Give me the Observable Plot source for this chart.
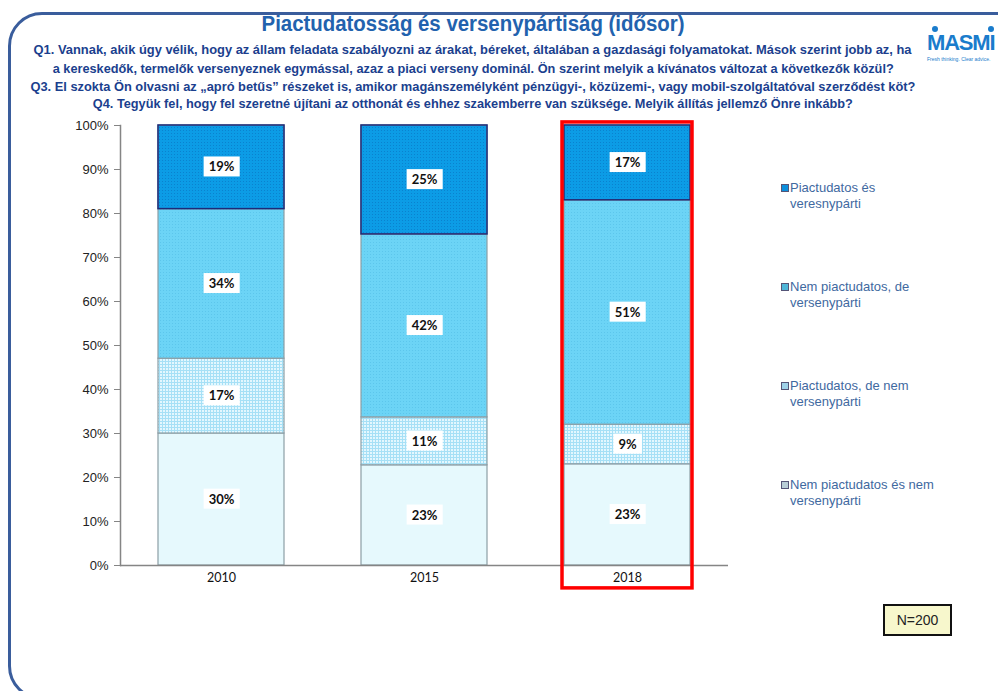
<!DOCTYPE html>
<html>
<head>
<meta charset="utf-8">
<script src="https://cdn.jsdelivr.net/npm/d3@7"></script>
<script src="https://cdn.jsdelivr.net/npm/@observablehq/plot@0.6"></script>
<style>
  html, body { margin: 0; padding: 0; background: #fff; }
  #page { position: relative; width: 998px; height: 691px; overflow: hidden; background: #fff; }
  #frame { position: absolute; left: 8px; top: 12px; width: 1030px; height: 688px; border: 3px solid #3a5d9c; border-radius: 34px; box-sizing: border-box; }
  .hl { position: absolute; left: 0; width: 946px; text-align: center; white-space: nowrap; font-family: "Liberation Sans", Arial, sans-serif; font-weight: bold; }
  .hl span { display: inline-block; transform-origin: 50% 50%; }
  #title { top: 11px; font-size: 22px; color: #2262ae; }
  .q { font-size: 13px; line-height: 16px; color: #1b3f8e; }
  #chart { position: absolute; left: 0; top: 115px; }
  #legend { position: absolute; left: 781px; top: 0; font-family: "Liberation Sans", Arial, sans-serif; font-size: 13px; color: #41699f; }
  .li { position: absolute; left: 0; width: 180px; line-height: 16px; white-space: nowrap; }
  .sw { display: inline-block; width: 8px; height: 8px; margin-right: 1px; vertical-align: 0px; box-sizing: border-box; }
  #nbox { position: absolute; left: 883px; top: 604px; width: 69px; height: 32px; box-sizing: border-box; border: 2px solid #111; background: #f7f7cc; font-family: "Liberation Sans", Arial, sans-serif; font-size: 14px; line-height: 28px; text-align: center; color: #222; }
  #logo { position: absolute; left: 927px; top: 24px; width: 72px; font-family: "Liberation Sans", Arial, sans-serif; color: #1a7ccc; }
  #logo .m { font-weight: bold; font-size: 22px; letter-spacing: -1.2px; line-height: 22px; position: relative; top: 8px; }
  #logo .t { font-size: 5px; line-height: 6px; margin-top: 10px; white-space: nowrap; }
  .dot { position: absolute; width: 6px; height: 6px; border-radius: 3px; background: #1a7ccc; }
</style>
</head>
<body>
<div id="page">
  <div id="frame"></div>
  <div id="title" class="hl"></div>
  <div id="questions"></div>
  <div id="logo"><div class="dot" style="left:5px;top:2px"></div><div class="dot" style="left:61px;top:2px"></div><div class="m">MASMI</div><div class="t">Fresh thinking. Clear advice.</div></div>
  <svg width="0" height="0" style="position:absolute">
    <defs>
      <pattern id="patA" width="3" height="3" patternUnits="userSpaceOnUse">
        <rect width="3" height="3" fill="#0c9ce6"></rect>
        <rect x="0" y="0" width="1" height="1" fill="#0a82cf"></rect>
      </pattern>
      <pattern id="patB" width="3" height="3" patternUnits="userSpaceOnUse">
        <rect width="3" height="3" fill="#6cd4f6"></rect>
        <rect x="1" y="1" width="1" height="1" fill="#5cc6ec"></rect>
      </pattern>
      <pattern id="patC" width="3" height="3" patternUnits="userSpaceOnUse">
        <rect width="3" height="3" fill="#e3f7fe"></rect>
        <rect x="0" y="0" width="1" height="3" fill="#a6e0f6"></rect>
        <rect x="0" y="0" width="3" height="1" fill="#a6e0f6"></rect>
      </pattern>
      <pattern id="patD" width="4" height="4" patternUnits="userSpaceOnUse">
        <rect width="4" height="4" fill="#e6f9fd"></rect>
      </pattern>
    </defs>
  </svg>
  <div id="chart"></div>
  <div id="legend"></div>
  <div id="nbox"></div>
</div>
<script>
// ---- Data ----
const titleText = "Piactudatosság és versenypártiság (idősor)";
const questionLines = [
  "Q1. Vannak, akik úgy vélik, hogy az állam feladata szabályozni az árakat, béreket, általában a gazdasági folyamatokat. Mások szerint jobb az, ha",
  "a kereskedők, termelők versenyeznek egymással, azaz a piaci verseny dominál. Ön szerint melyik a kívánatos változat a következők közül?",
  "Q3. El szokta Ön olvasni az „apró betűs” részeket is, amikor magánszemélyként pénzügyi-, közüzemi-, vagy mobil-szolgáltatóval szerződést köt?",
  "Q4. Tegyük fel, hogy fel szeretné újítani az otthonát és ehhez szakemberre van szüksége. Melyik állítás jellemző Önre inkább?"
];
const years = ["2010", "2015", "2018"];
const highlightYears = ["2018"];
// series listed top-of-stack first (legend order)
const seriesNames = [
  "Piactudatos és veresnypárti",
  "Nem piactudatos, de versenypárti",
  "Piactudatos, de nem versenypárti",
  "Nem piactudatos és nem versenypárti"
];
const legendLines = [
  ["Piactudatos és", "veresnypárti"],
  ["Nem piactudatos, de", "versenypárti"],
  ["Piactudatos, de nem", "versenypárti"],
  ["Nem piactudatos és nem", "versenypárti"]
];
const valuesA = [19, 25, 17]; // Piactudatos és veresnypárti
const valuesB = [34, 42, 51]; // Nem piactudatos, de versenypárti
const valuesC = [17, 11, 9];  // Piactudatos, de nem versenypárti
const valuesD = [30, 23, 23]; // Nem piactudatos és nem versenypárti
const sampleNote = "N=200";
const yTicks = [0, 0.1, 0.2, 0.3, 0.4, 0.5, 0.6, 0.7, 0.8, 0.9, 1.0];

// ---- Build table (bottom of stack first) ----
const seriesValues = [valuesA, valuesB, valuesC, valuesD];
const stackOrder = [3, 2, 1, 0];
const data = [];
for (const si of stackOrder) {
  years.forEach((yr, i) => data.push({year: yr, series: seriesNames[si], value: seriesValues[si][i]}));
}
const fills = ["url(#patA)", "url(#patB)", "url(#patC)", "url(#patD)"];
const swatch = ["#0c8fdc", "#4fb6d8", "#9fd2e8", "#b8cdd6"];

// ---- Header text (lines fitted to the reference widths) ----
function fitLine(container, text, width) {
  const s = document.createElement("span");
  s.textContent = text;
  container.appendChild(s);
  const w = s.getBoundingClientRect().width;
  s.style.transform = `scaleX(${width / w})`;
}
fitLine(document.getElementById("title"), titleText, 423);
const qWidths = [878, 841, 885, 760];
const qTops = [42, 61, 79, 96];
const qBox = document.getElementById("questions");
questionLines.forEach((l, i) => {
  const d = document.createElement("div");
  d.className = "hl q";
  d.style.top = qTops[i] + "px";
  qBox.appendChild(d);
  fitLine(d, l, qWidths[i]);
});
document.getElementById("nbox").textContent = sampleNote;

const legendTops = [180, 279, 378, 477];
document.getElementById("legend").innerHTML = legendLines.map((ls, i) =>
  `<div class="li" style="top:${legendTops[i]}px"><span class="sw" style="background:${swatch[i]};border:1px solid #557"></span>${ls[0]}<br><span style="padding-left:9px">${ls[1]}</span></div>`
).join("");

const stackOpts = {offset: "normalize", x: "year", y: "value", z: "series"};

const chart = Plot.plot({
  width: 740,
  height: 490,
  marginLeft: 120,
  marginRight: 12,
  marginTop: 10,
  marginBottom: 40,
  style: {background: "transparent", overflow: "visible"},
  x: {domain: years, paddingInner: 0.377, paddingOuter: 0.18, align: 0.5},
  y: {domain: [0, 1]},
  color: {domain: seriesNames, range: fills},
  opacity: {domain: [0, 1], range: [0, 1]},
  marks: [
    Plot.barY(data, Plot.stackY({...stackOpts, fill: "series", stroke: "#8c9ea6", strokeWidth: 1.2})),
    Plot.barY(data, Plot.stackY({...stackOpts, fill: "none", stroke: "#1d2a78", strokeWidth: 1.5, strokeOpacity: d => d.series === seriesNames[0] ? 1 : 0})),
    Plot.frame({anchor: "left", stroke: "#858585", strokeWidth: 1.5}),
    Plot.ruleY([0], {stroke: "#858585", strokeWidth: 1.5}),
    Plot.axisY({ticks: yTicks, tickFormat: d3.format(".0%"), tickSize: 6, tickPadding: 6, stroke: "#858585", fill: "#222", fontSize: 13, fontFamily: "Liberation Sans, Arial, sans-serif", label: null}),
    Plot.axisX({tickSize: 0, tickPadding: 8, fill: "#111", fontSize: 12.5, fontFamily: "Lato, sans-serif", label: null}),
    Plot.text(data, Plot.stackY({...stackOpts, text: d => d.value + "%", fill: "#111", fontWeight: "bold", fontSize: 13, fontFamily: "Lato, sans-serif", className: "vlabel"})),
    Plot.barY(highlightYears, {x: d => d, y1: -0.052, y2: 1.007, fill: "none", stroke: "#ff0000", strokeWidth: 3.5, insetLeft: -2, insetRight: -2, clip: false})
  ]
});
document.getElementById("chart").appendChild(chart);

// white boxes behind the value labels
const svg = chart.tagName.toLowerCase() === "svg" ? chart : chart.querySelector("svg");
svg.querySelectorAll("g.vlabel text").forEach(t => {
  const b = t.getBBox();
  const r = document.createElementNS("http://www.w3.org/2000/svg", "rect");
  r.setAttribute("x", b.x - 5);
  r.setAttribute("y", b.y - 2);
  r.setAttribute("width", b.width + 10);
  r.setAttribute("height", b.height + 4);
  r.setAttribute("fill", "#ffffff");
  const tr = t.getAttribute("transform");
  if (tr) r.setAttribute("transform", tr);
  t.parentNode.insertBefore(r, t);
});
</script>
</body>
</html>
